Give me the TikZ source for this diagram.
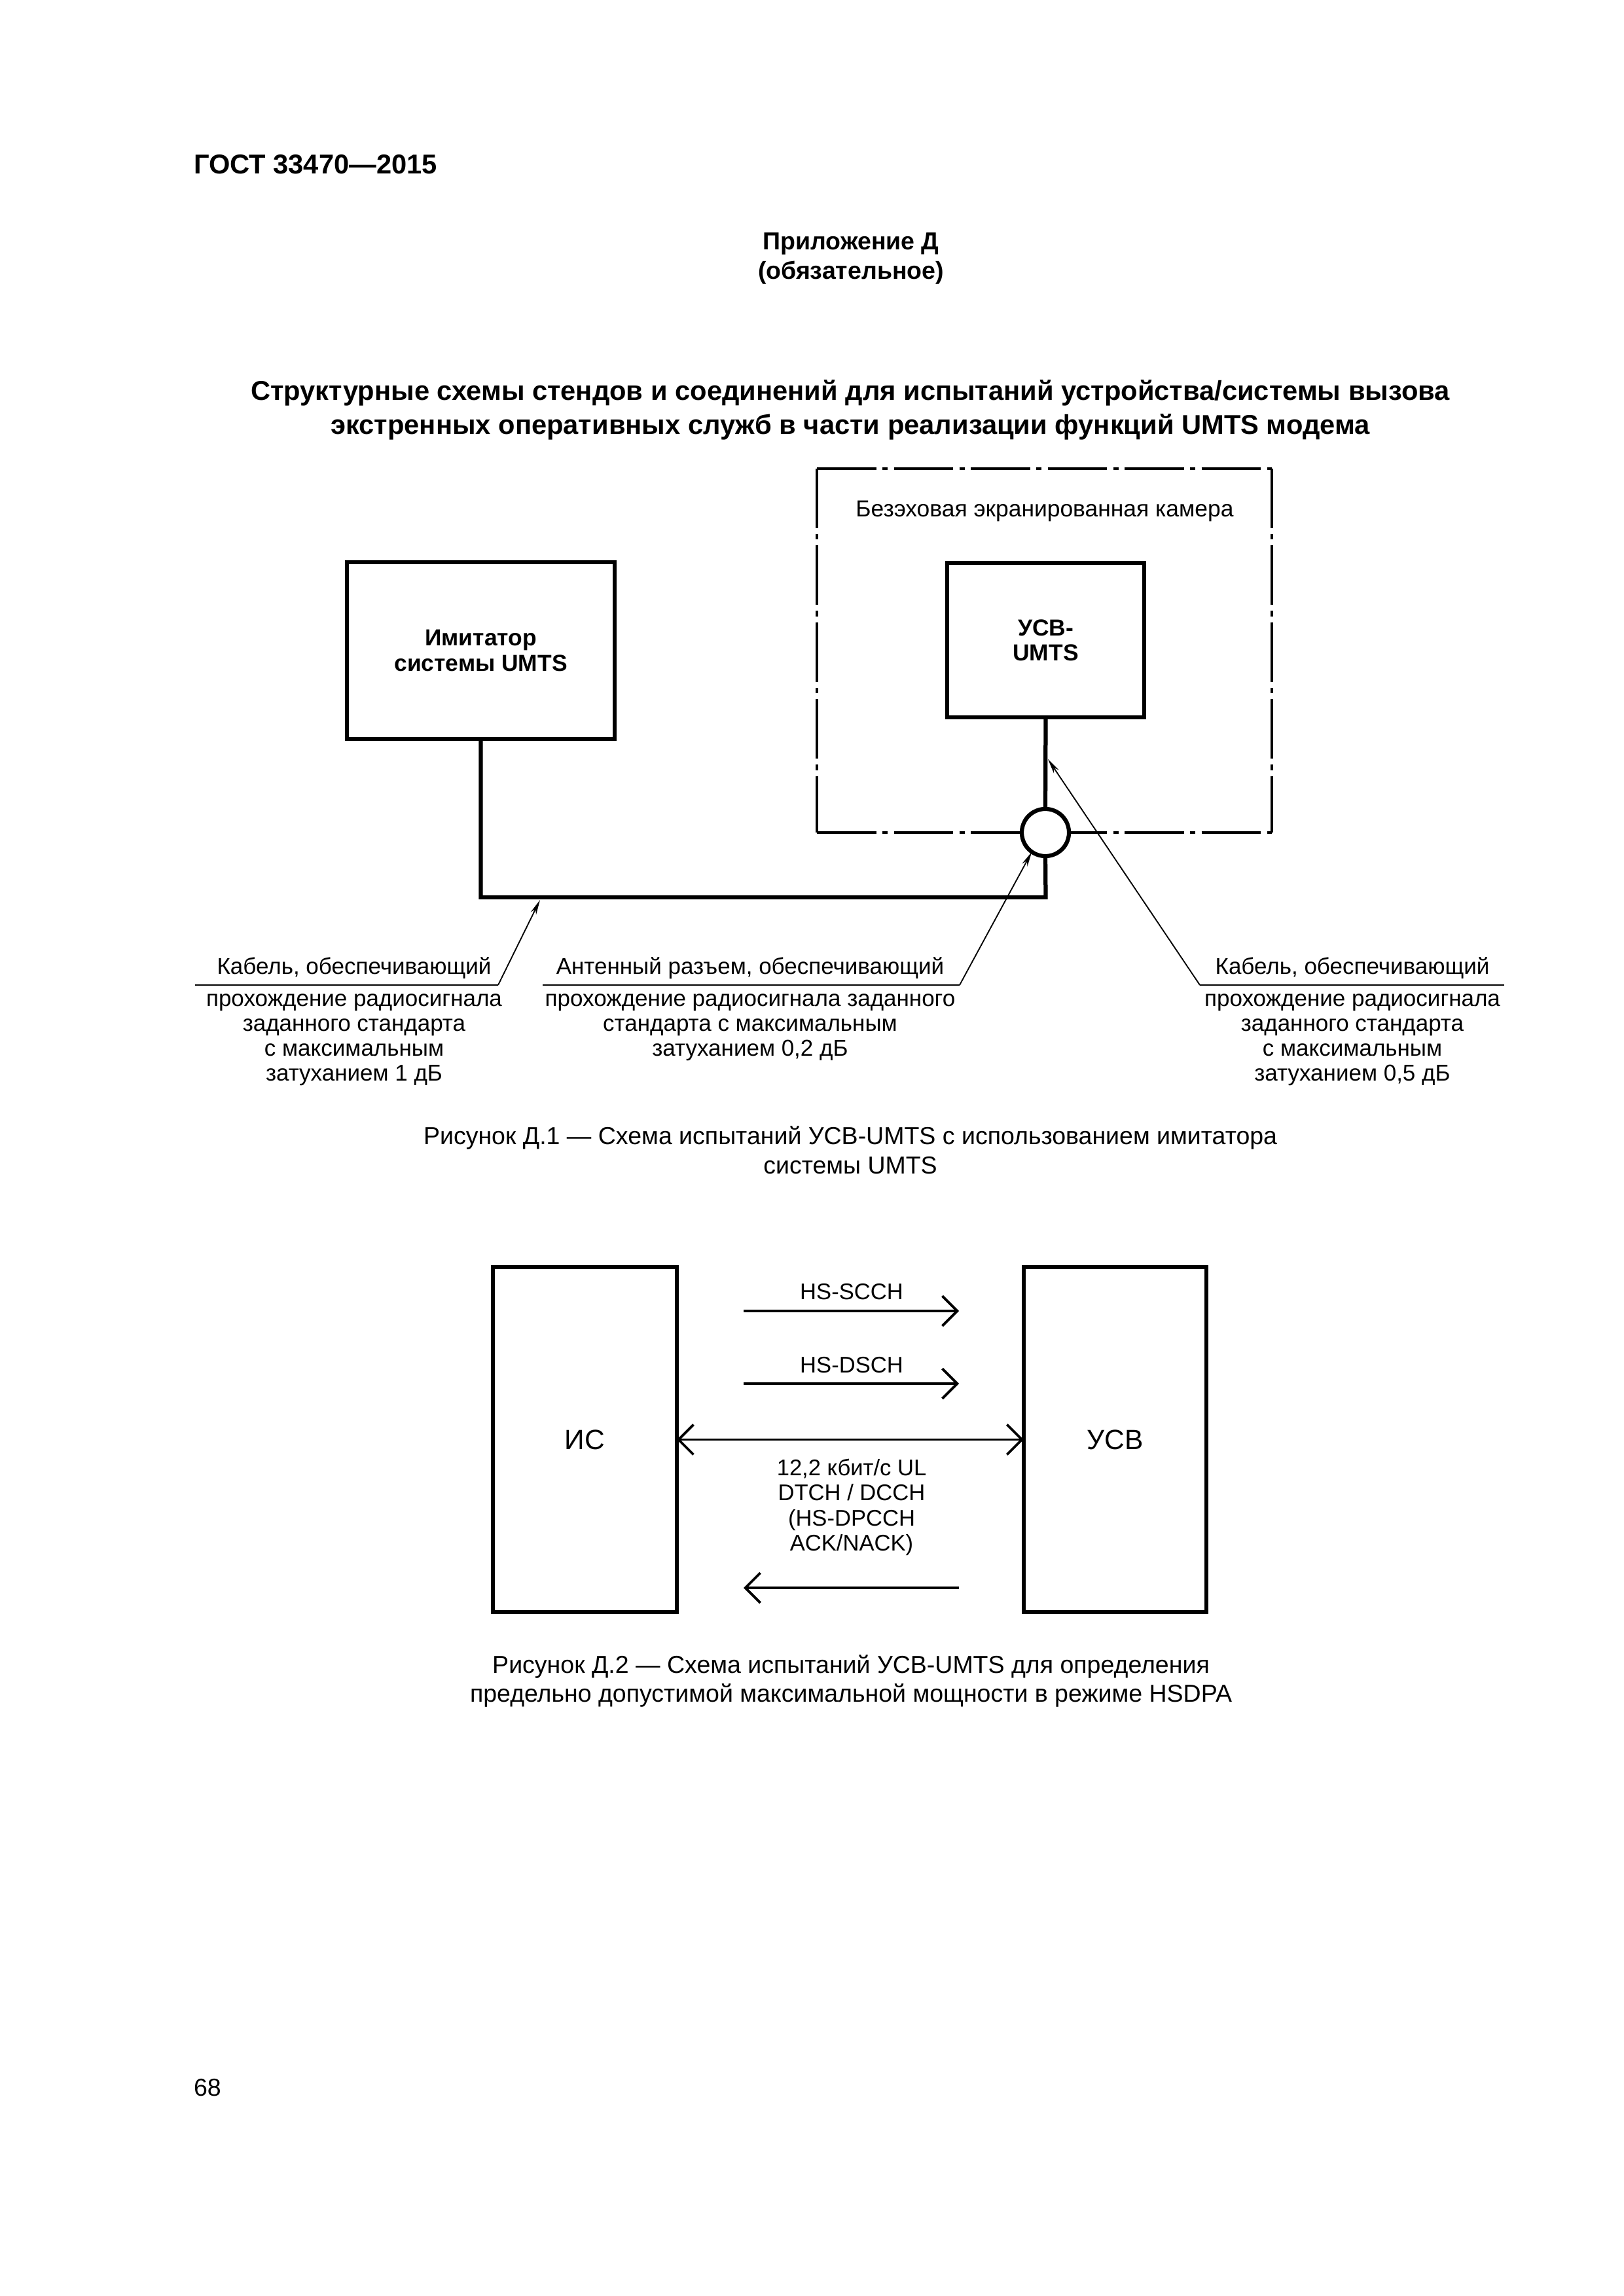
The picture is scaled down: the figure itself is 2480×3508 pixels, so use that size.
\documentclass[tikz,border=0pt]{standalone}
\usepackage{fontspec}
\setmainfont{Liberation Sans}
\usetikzlibrary{arrows.meta}
\begin{document}
\begin{tikzpicture}[x=0.24pt,y=-0.24pt,
  every node/.style={inner sep=0pt, outer sep=0pt},
  hdr/.style={anchor=base, font=\bfseries\fontsize{10}{12}\selectfont},
  ttl/.style={anchor=base, font=\bfseries\fontsize{10}{12}\selectfont},
  lbl/.style={anchor=base, font=\fontsize{8.4}{9}\selectfont},
  flbl/.style={anchor=base, font=\fontsize{8.3}{9}\selectfont},
  capt/.style={anchor=base, font=\fontsize{9}{10}\selectfont},
  devbox/.style={draw, line width=1.5pt, align=center, font=\bfseries\fontsize{8.5}{9.2}\selectfont},
  sysbox/.style={draw, line width=1.3pt, font=\fontsize{10.2}{12}\selectfont},
  cable/.style={line width=1.5pt},
  leader/.style={line width=0.45pt, -{Stealth[length=5.5pt,width=2.2pt]}},
  uline/.style={line width=0.6pt},
  chamberline/.style={line width=0.8pt, dash pattern=on 21.8pt off 2.2pt on 2pt off 2.2pt},
  flow/.style={line width=0.9pt, -{Straight Barb[length=5.5pt,width=11pt]}},
  flowboth/.style={line width=0.9pt, {Straight Barb[length=5.5pt,width=11pt]}-{Straight Barb[length=5.5pt,width=11pt]}}
]
\fill[white] (0,0) rectangle (2480,3508);
\useasboundingbox (0,0) rectangle (2480,3508);

% header
\node[hdr, anchor=base west] (gost) at (296,266) {ГОСТ 33470—2015};
\node[hdr, font=\bfseries\fontsize{9}{11}\selectfont] (app) at (1300,382) {Приложение Д};
\node[hdr, font=\bfseries\fontsize{9}{11}\selectfont] (appb) at (1300,427) {(обязательное)};
\node[ttl] (title1) at (1299,612) {Структурные схемы стендов и соединений для испытаний устройства/системы вызова};
\node[ttl] (title2) at (1299,664) {экстренных оперативных служб в части реализации функций UMTS модема};

% figure 1
\coordinate (chTL) at (1248,716);
\coordinate (chTR) at (1943,716);
\coordinate (chBL) at (1248,1272);
\coordinate (chBR) at (1943,1272);
\draw[chamberline] (chTL) -- (chTR);
\draw[chamberline] (chTL) -- (chBL);
\draw[chamberline] (chTR) -- (chBR);
\draw[chamberline] (chBL) -- (chBR);
\node[anchor=base, font=\fontsize{8.5}{10}\selectfont] (chlabel) at (1596,790) {Безэховая экранированная камера};

\node[devbox, minimum width=98.2pt, minimum height=64.8pt] (imit) at (734.5,994) {Имитатор\\системы UMTS};
\node[devbox, minimum width=72.2pt, minimum height=56.6pt] (usv) at (1597.5,978) {УСВ-\\UMTS};
\node[draw, circle, line width=1.5pt, minimum size=17.3pt, fill=white] (conn) at (1597,1272) {};

\coordinate (cr) at (1597.5,1371);
\draw[cable] (usv.south) -- (conn.north);
\draw[cable] (conn.south) -- (cr) -| (imit.south);

% leaders
\coordinate (u1a) at (298,1505);
\coordinate (u1b) at (761,1505);
\coordinate (t1) at (825,1375);
\draw[uline] (u1a) -- (u1b);
\draw[leader] (u1b) -- (t1);

\coordinate (u2a) at (829,1505);
\coordinate (u2b) at (1466,1505);
\draw[uline] (u2a) -- (u2b);
\draw[leader] (u2b) -- (conn.235);

\coordinate (u3a) at (1833,1505);
\coordinate (u3b) at (2298,1505);
\coordinate (t3) at (1601,1160);
\draw[uline] (u3a) -- (u3b);
\draw[leader] (u3a) -- (t3);

\node[lbl] (l1h) at (541,1488) {Кабель, обеспечивающий};
\foreach \t [count=\i] in {{прохождение радиосигнала},{заданного стандарта},{с максимальным},{затуханием 1 дБ}}
  \node[lbl] (l1-\i) at (541,{1537+38*(\i-1)}) {\t};

\node[lbl] (l2h) at (1146,1488) {Антенный разъем, обеспечивающий};
\foreach \t [count=\i] in {{прохождение радиосигнала заданного},{стандарта с максимальным},{затуханием 0,2 дБ}}
  \node[lbl] (l2-\i) at (1146,{1537+38*(\i-1)}) {\t};

\node[lbl] (l3h) at (2066,1488) {Кабель, обеспечивающий};
\foreach \t [count=\i] in {{прохождение радиосигнала},{заданного стандарта},{с максимальным},{затуханием 0,5 дБ}}
  \node[lbl] (l3-\i) at (2066,{1537+38*(\i-1)}) {\t};

\node[capt] (cap1a) at (1299,1748) {Рисунок Д.1 — Схема испытаний УСВ-UMTS с использованием имитатора};
\node[capt] (cap1b) at (1299,1793) {системы UMTS};

% figure 2
\node[sysbox, minimum width=67.4pt, minimum height=126.5pt] (is) at (893.5,2199.5) {ИС};
\node[sysbox, minimum width=67pt, minimum height=126.5pt] (usv2) at (1703.5,2199.5) {УСВ};

\coordinate (a1s) at (1136,2003);
\coordinate (a1e) at (1465,2003);
\coordinate (a2s) at (1136,2114);
\coordinate (a2e) at (1465,2114);
\coordinate (a3s) at (1465,2426);
\coordinate (a3e) at (1136,2426);
\draw[flow] (a1s) -- (a1e);
\draw[flow] (a2s) -- (a2e);
\draw[flowboth] (is) -- (usv2);
\draw[flow] (a3s) -- (a3e);

\node[flbl] (hsscch) at (1301,1985) {HS-SCCH};
\node[flbl] (hsdsch) at (1301,2097) {HS-DSCH};
\foreach \t [count=\i] in {{12,2 кбит/с UL},{DTCH / DCCH},{(HS-DPCCH},{ACK/NACK)}}
  \node[flbl] (ul-\i) at (1301,{2254+38.5*(\i-1)}) {\t};

\node[capt] (cap2a) at (1300,2556) {Рисунок Д.2 — Схема испытаний УСВ-UMTS для определения};
\node[capt] (cap2b) at (1300,2600) {предельно допустимой максимальной мощности в режиме HSDPA};

\node[capt, anchor=base west] (page) at (296,3202) {68};
\end{tikzpicture}
\end{document}
